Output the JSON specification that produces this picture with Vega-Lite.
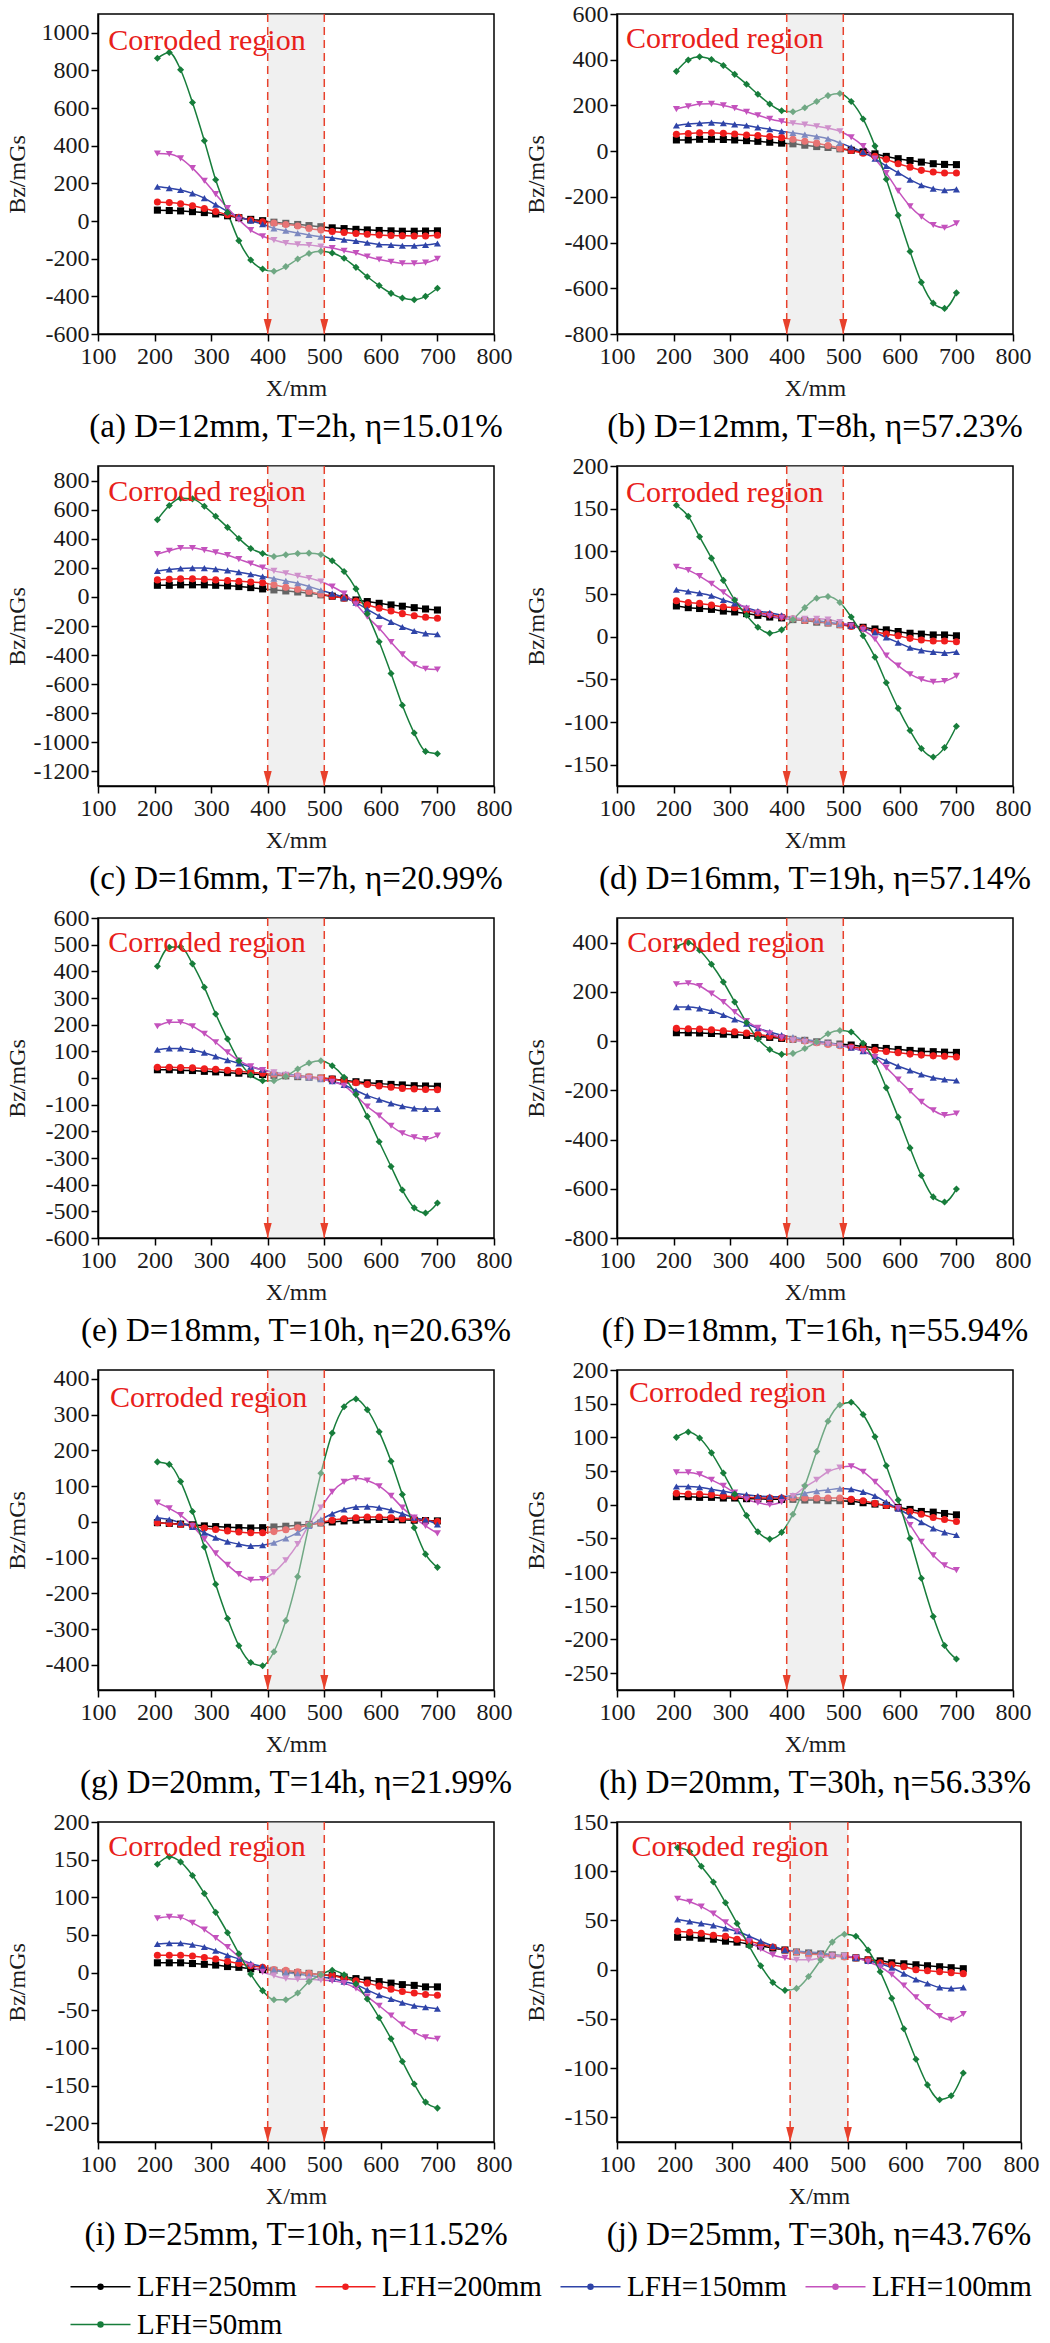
{
"$schema":"https://vega.github.io/schema/vega-lite/v6.json",
"padding":{"left":4,"top":1,"right":0,"bottom":0},
"bounds":"flush",
"columns":2,
"spacing":{"row":132,"column":123},
"config":{
"font":"Liberation Serif, serif",
"view":{"stroke":"#000","strokeWidth":1.5},
"range":{"category":["#000000","#f01e1e","#2f44a8","#c452bd","#177d3b"],"symbol":["square","circle","triangle-up","triangle-down","diamond"]},
"axis":{"grid":false,"labelFont":"Liberation Serif, serif","labelFontSize":24,"labelColor":"#1a1a1a","titleFont":"Liberation Serif, serif","titleFontSize":24,"titleFontWeight":"normal","titleColor":"#1a1a1a","domainColor":"#000","domainWidth":1.5,"tickColor":"#000","tickWidth":1.5,"tickSize":7,"tickCount":20},
"axisX":{"labelPadding":3,"titlePadding":8,"labelFlush":false,"labelOverlap":false},
"axisY":{"labelPadding":2,"titlePadding":2,"minExtent":67,"maxExtent":67,"labelOverlap":false},
"title":{"font":"Liberation Serif, serif","fontSize":33,"fontWeight":"normal","color":"#000","orient":"bottom","anchor":"middle","offset":11,"frame":"group"}
},
"datasets":{
"a":[
{"s":250,"x":205,"y":58},{"s":250,"x":226,"y":56},{"s":250,"x":246,"y":54},{"s":250,"x":267,"y":50},{"s":250,"x":288,"y":45},{"s":250,"x":308,"y":38},{"s":250,"x":329,"y":28},{"s":250,"x":349,"y":18},{"s":250,"x":370,"y":9},{"s":250,"x":391,"y":2},{"s":250,"x":411,"y":-6},{"s":250,"x":432,"y":-12},{"s":250,"x":453,"y":-18},{"s":250,"x":473,"y":-24},{"s":250,"x":494,"y":-30},{"s":250,"x":514,"y":-36},{"s":250,"x":535,"y":-40},{"s":250,"x":556,"y":-44},{"s":250,"x":576,"y":-47},{"s":250,"x":597,"y":-50},{"s":250,"x":618,"y":-52},{"s":250,"x":638,"y":-54},{"s":250,"x":659,"y":-54},{"s":250,"x":679,"y":-53},{"s":250,"x":700,"y":-52},
{"s":200,"x":205,"y":101},{"s":200,"x":226,"y":98},{"s":200,"x":246,"y":92},{"s":200,"x":267,"y":81},{"s":200,"x":288,"y":67},{"s":200,"x":308,"y":51},{"s":200,"x":329,"y":34},{"s":200,"x":349,"y":20},{"s":200,"x":370,"y":5},{"s":200,"x":391,"y":-4},{"s":200,"x":411,"y":-11},{"s":200,"x":432,"y":-18},{"s":200,"x":453,"y":-26},{"s":200,"x":473,"y":-39},{"s":200,"x":494,"y":-48},{"s":200,"x":514,"y":-55},{"s":200,"x":535,"y":-61},{"s":200,"x":556,"y":-66},{"s":200,"x":576,"y":-70},{"s":200,"x":597,"y":-74},{"s":200,"x":618,"y":-77},{"s":200,"x":638,"y":-78},{"s":200,"x":659,"y":-79},{"s":200,"x":679,"y":-79},{"s":200,"x":700,"y":-75},
{"s":150,"x":205,"y":182},{"s":150,"x":226,"y":175},{"s":150,"x":246,"y":165},{"s":150,"x":267,"y":147},{"s":150,"x":288,"y":122},{"s":150,"x":308,"y":87},{"s":150,"x":329,"y":51},{"s":150,"x":349,"y":23},{"s":150,"x":370,"y":2},{"s":150,"x":391,"y":-16},{"s":150,"x":411,"y":-39},{"s":150,"x":432,"y":-51},{"s":150,"x":453,"y":-64},{"s":150,"x":473,"y":-74},{"s":150,"x":494,"y":-83},{"s":150,"x":514,"y":-90},{"s":150,"x":535,"y":-99},{"s":150,"x":556,"y":-106},{"s":150,"x":576,"y":-115},{"s":150,"x":597,"y":-124},{"s":150,"x":618,"y":-127},{"s":150,"x":638,"y":-131},{"s":150,"x":659,"y":-131},{"s":150,"x":679,"y":-127},{"s":150,"x":700,"y":-119},
{"s":100,"x":205,"y":359},{"s":100,"x":226,"y":356},{"s":100,"x":246,"y":333},{"s":100,"x":267,"y":281},{"s":100,"x":288,"y":214},{"s":100,"x":308,"y":143},{"s":100,"x":329,"y":69},{"s":100,"x":349,"y":7},{"s":100,"x":370,"y":-48},{"s":100,"x":391,"y":-81},{"s":100,"x":411,"y":-101},{"s":100,"x":432,"y":-117},{"s":100,"x":453,"y":-124},{"s":100,"x":473,"y":-127},{"s":100,"x":494,"y":-135},{"s":100,"x":514,"y":-143},{"s":100,"x":535,"y":-158},{"s":100,"x":556,"y":-170},{"s":100,"x":576,"y":-188},{"s":100,"x":597,"y":-204},{"s":100,"x":618,"y":-216},{"s":100,"x":638,"y":-225},{"s":100,"x":659,"y":-225},{"s":100,"x":679,"y":-221},{"s":100,"x":700,"y":-200},
{"s":50,"x":205,"y":865},{"s":50,"x":226,"y":896},{"s":50,"x":246,"y":804},{"s":50,"x":267,"y":630},{"s":50,"x":288,"y":427},{"s":50,"x":308,"y":219},{"s":50,"x":329,"y":46},{"s":50,"x":349,"y":-104},{"s":50,"x":370,"y":-207},{"s":50,"x":391,"y":-255},{"s":50,"x":411,"y":-267},{"s":50,"x":432,"y":-242},{"s":50,"x":453,"y":-202},{"s":50,"x":473,"y":-172},{"s":50,"x":494,"y":-161},{"s":50,"x":514,"y":-170},{"s":50,"x":535,"y":-198},{"s":50,"x":556,"y":-246},{"s":50,"x":576,"y":-296},{"s":50,"x":597,"y":-343},{"s":50,"x":618,"y":-384},{"s":50,"x":638,"y":-409},{"s":50,"x":659,"y":-418},{"s":50,"x":679,"y":-400},{"s":50,"x":700,"y":-357}
],
"b":[
{"s":250,"x":205,"y":49},{"s":250,"x":226,"y":49},{"s":250,"x":246,"y":52},{"s":250,"x":267,"y":52},{"s":250,"x":288,"y":51},{"s":250,"x":308,"y":49},{"s":250,"x":329,"y":46},{"s":250,"x":349,"y":43},{"s":250,"x":370,"y":39},{"s":250,"x":391,"y":35},{"s":250,"x":411,"y":32},{"s":250,"x":432,"y":26},{"s":250,"x":453,"y":20},{"s":250,"x":473,"y":16},{"s":250,"x":494,"y":10},{"s":250,"x":514,"y":4},{"s":250,"x":535,"y":-3},{"s":250,"x":556,"y":-12},{"s":250,"x":576,"y":-23},{"s":250,"x":597,"y":-33},{"s":250,"x":618,"y":-41},{"s":250,"x":638,"y":-48},{"s":250,"x":659,"y":-55},{"s":250,"x":679,"y":-58},{"s":250,"x":700,"y":-59},
{"s":200,"x":205,"y":74},{"s":200,"x":226,"y":77},{"s":200,"x":246,"y":80},{"s":200,"x":267,"y":80},{"s":200,"x":288,"y":78},{"s":200,"x":308,"y":75},{"s":200,"x":329,"y":71},{"s":200,"x":349,"y":68},{"s":200,"x":370,"y":64},{"s":200,"x":391,"y":59},{"s":200,"x":411,"y":52},{"s":200,"x":432,"y":43},{"s":200,"x":453,"y":35},{"s":200,"x":473,"y":25},{"s":200,"x":494,"y":13},{"s":200,"x":514,"y":3},{"s":200,"x":535,"y":-9},{"s":200,"x":556,"y":-22},{"s":200,"x":576,"y":-36},{"s":200,"x":597,"y":-55},{"s":200,"x":618,"y":-70},{"s":200,"x":638,"y":-84},{"s":200,"x":659,"y":-91},{"s":200,"x":679,"y":-96},{"s":200,"x":700,"y":-96},
{"s":150,"x":205,"y":112},{"s":150,"x":226,"y":119},{"s":150,"x":246,"y":122},{"s":150,"x":267,"y":125},{"s":150,"x":288,"y":122},{"s":150,"x":308,"y":117},{"s":150,"x":329,"y":112},{"s":150,"x":349,"y":104},{"s":150,"x":370,"y":96},{"s":150,"x":391,"y":87},{"s":150,"x":411,"y":80},{"s":150,"x":432,"y":72},{"s":150,"x":453,"y":64},{"s":150,"x":473,"y":54},{"s":150,"x":494,"y":36},{"s":150,"x":514,"y":17},{"s":150,"x":535,"y":-4},{"s":150,"x":556,"y":-33},{"s":150,"x":576,"y":-65},{"s":150,"x":597,"y":-94},{"s":150,"x":618,"y":-125},{"s":150,"x":638,"y":-149},{"s":150,"x":659,"y":-164},{"s":150,"x":679,"y":-171},{"s":150,"x":700,"y":-167},
{"s":100,"x":205,"y":184},{"s":100,"x":226,"y":196},{"s":100,"x":246,"y":206},{"s":100,"x":267,"y":207},{"s":100,"x":288,"y":200},{"s":100,"x":308,"y":188},{"s":100,"x":329,"y":172},{"s":100,"x":349,"y":157},{"s":100,"x":370,"y":141},{"s":100,"x":391,"y":130},{"s":100,"x":411,"y":122},{"s":100,"x":432,"y":116},{"s":100,"x":453,"y":109},{"s":100,"x":473,"y":100},{"s":100,"x":494,"y":87},{"s":100,"x":514,"y":61},{"s":100,"x":535,"y":22},{"s":100,"x":556,"y":-33},{"s":100,"x":576,"y":-96},{"s":100,"x":597,"y":-174},{"s":100,"x":618,"y":-241},{"s":100,"x":638,"y":-287},{"s":100,"x":659,"y":-323},{"s":100,"x":679,"y":-335},{"s":100,"x":700,"y":-316},
{"s":50,"x":205,"y":349},{"s":50,"x":226,"y":399},{"s":50,"x":246,"y":413},{"s":50,"x":267,"y":401},{"s":50,"x":288,"y":375},{"s":50,"x":308,"y":336},{"s":50,"x":329,"y":293},{"s":50,"x":349,"y":249},{"s":50,"x":370,"y":206},{"s":50,"x":391,"y":177},{"s":50,"x":411,"y":172},{"s":50,"x":432,"y":190},{"s":50,"x":453,"y":217},{"s":50,"x":473,"y":243},{"s":50,"x":494,"y":252},{"s":50,"x":514,"y":217},{"s":50,"x":535,"y":141},{"s":50,"x":556,"y":22},{"s":50,"x":576,"y":-123},{"s":50,"x":597,"y":-281},{"s":50,"x":618,"y":-439},{"s":50,"x":638,"y":-574},{"s":50,"x":659,"y":-665},{"s":50,"x":679,"y":-688},{"s":50,"x":700,"y":-620}
],
"c":[
{"s":250,"x":205,"y":80},{"s":250,"x":226,"y":80},{"s":250,"x":246,"y":83},{"s":250,"x":267,"y":83},{"s":250,"x":288,"y":83},{"s":250,"x":308,"y":80},{"s":250,"x":329,"y":76},{"s":250,"x":349,"y":71},{"s":250,"x":370,"y":64},{"s":250,"x":391,"y":55},{"s":250,"x":411,"y":48},{"s":250,"x":432,"y":41},{"s":250,"x":453,"y":34},{"s":250,"x":473,"y":25},{"s":250,"x":494,"y":14},{"s":250,"x":514,"y":5},{"s":250,"x":535,"y":-7},{"s":250,"x":556,"y":-21},{"s":250,"x":576,"y":-32},{"s":250,"x":597,"y":-44},{"s":250,"x":618,"y":-55},{"s":250,"x":638,"y":-64},{"s":250,"x":659,"y":-74},{"s":250,"x":679,"y":-83},{"s":250,"x":700,"y":-90},
{"s":200,"x":205,"y":117},{"s":200,"x":226,"y":122},{"s":200,"x":246,"y":124},{"s":200,"x":267,"y":124},{"s":200,"x":288,"y":122},{"s":200,"x":308,"y":117},{"s":200,"x":329,"y":113},{"s":200,"x":349,"y":108},{"s":200,"x":370,"y":103},{"s":200,"x":391,"y":97},{"s":200,"x":411,"y":83},{"s":200,"x":432,"y":67},{"s":200,"x":453,"y":53},{"s":200,"x":473,"y":37},{"s":200,"x":494,"y":18},{"s":200,"x":514,"y":5},{"s":200,"x":535,"y":-9},{"s":200,"x":556,"y":-28},{"s":200,"x":576,"y":-55},{"s":200,"x":597,"y":-78},{"s":200,"x":618,"y":-97},{"s":200,"x":638,"y":-115},{"s":200,"x":659,"y":-129},{"s":200,"x":679,"y":-140},{"s":200,"x":700,"y":-147},
{"s":150,"x":205,"y":179},{"s":150,"x":226,"y":189},{"s":150,"x":246,"y":195},{"s":150,"x":267,"y":198},{"s":150,"x":288,"y":198},{"s":150,"x":308,"y":191},{"s":150,"x":329,"y":182},{"s":150,"x":349,"y":170},{"s":150,"x":370,"y":156},{"s":150,"x":391,"y":140},{"s":150,"x":411,"y":126},{"s":150,"x":432,"y":110},{"s":150,"x":453,"y":94},{"s":150,"x":473,"y":71},{"s":150,"x":494,"y":46},{"s":150,"x":514,"y":23},{"s":150,"x":535,"y":-5},{"s":150,"x":556,"y":-39},{"s":150,"x":576,"y":-85},{"s":150,"x":597,"y":-131},{"s":150,"x":618,"y":-172},{"s":150,"x":638,"y":-207},{"s":150,"x":659,"y":-234},{"s":150,"x":679,"y":-251},{"s":150,"x":700,"y":-257},
{"s":100,"x":205,"y":294},{"s":100,"x":226,"y":317},{"s":100,"x":246,"y":336},{"s":100,"x":267,"y":336},{"s":100,"x":288,"y":322},{"s":100,"x":308,"y":306},{"s":100,"x":329,"y":287},{"s":100,"x":349,"y":260},{"s":100,"x":370,"y":230},{"s":100,"x":391,"y":202},{"s":100,"x":411,"y":179},{"s":100,"x":432,"y":163},{"s":100,"x":453,"y":145},{"s":100,"x":473,"y":129},{"s":100,"x":494,"y":106},{"s":100,"x":514,"y":71},{"s":100,"x":535,"y":23},{"s":100,"x":556,"y":-51},{"s":100,"x":576,"y":-136},{"s":100,"x":597,"y":-216},{"s":100,"x":618,"y":-310},{"s":100,"x":638,"y":-395},{"s":100,"x":659,"y":-464},{"s":100,"x":679,"y":-494},{"s":100,"x":700,"y":-499},
{"s":50,"x":205,"y":531},{"s":50,"x":226,"y":628},{"s":50,"x":246,"y":678},{"s":50,"x":267,"y":674},{"s":50,"x":288,"y":623},{"s":50,"x":308,"y":554},{"s":50,"x":329,"y":478},{"s":50,"x":349,"y":402},{"s":50,"x":370,"y":333},{"s":50,"x":391,"y":299},{"s":50,"x":411,"y":278},{"s":50,"x":432,"y":290},{"s":50,"x":453,"y":299},{"s":50,"x":473,"y":301},{"s":50,"x":494,"y":292},{"s":50,"x":514,"y":248},{"s":50,"x":535,"y":175},{"s":50,"x":556,"y":55},{"s":50,"x":576,"y":-115},{"s":50,"x":597,"y":-308},{"s":50,"x":618,"y":-526},{"s":50,"x":638,"y":-745},{"s":50,"x":659,"y":-936},{"s":50,"x":679,"y":-1062},{"s":50,"x":700,"y":-1078}
],
"d":[
{"s":250,"x":205,"y":36},{"s":250,"x":226,"y":34},{"s":250,"x":246,"y":33},{"s":250,"x":267,"y":32},{"s":250,"x":288,"y":30},{"s":250,"x":308,"y":29},{"s":250,"x":329,"y":27},{"s":250,"x":349,"y":25},{"s":250,"x":370,"y":23},{"s":250,"x":391,"y":22},{"s":250,"x":411,"y":20},{"s":250,"x":432,"y":19},{"s":250,"x":453,"y":17},{"s":250,"x":473,"y":16},{"s":250,"x":494,"y":14},{"s":250,"x":514,"y":13},{"s":250,"x":535,"y":11},{"s":250,"x":556,"y":9},{"s":250,"x":576,"y":8},{"s":250,"x":597,"y":6},{"s":250,"x":618,"y":4},{"s":250,"x":638,"y":3},{"s":250,"x":659,"y":2},{"s":250,"x":679,"y":2},{"s":250,"x":700,"y":1},
{"s":200,"x":205,"y":42},{"s":200,"x":226,"y":40},{"s":200,"x":246,"y":39},{"s":200,"x":267,"y":37},{"s":200,"x":288,"y":35},{"s":200,"x":308,"y":34},{"s":200,"x":329,"y":31},{"s":200,"x":349,"y":28},{"s":200,"x":370,"y":26},{"s":200,"x":391,"y":23},{"s":200,"x":411,"y":21},{"s":200,"x":432,"y":19},{"s":200,"x":453,"y":18},{"s":200,"x":473,"y":16},{"s":200,"x":494,"y":14},{"s":200,"x":514,"y":12},{"s":200,"x":535,"y":10},{"s":200,"x":556,"y":6},{"s":200,"x":576,"y":3},{"s":200,"x":597,"y":1},{"s":200,"x":618,"y":-2},{"s":200,"x":638,"y":-4},{"s":200,"x":659,"y":-5},{"s":200,"x":679,"y":-5},{"s":200,"x":700,"y":-6},
{"s":150,"x":205,"y":55},{"s":150,"x":226,"y":53},{"s":150,"x":246,"y":51},{"s":150,"x":267,"y":48},{"s":150,"x":288,"y":43},{"s":150,"x":308,"y":39},{"s":150,"x":329,"y":34},{"s":150,"x":349,"y":30},{"s":150,"x":370,"y":28},{"s":150,"x":391,"y":25},{"s":150,"x":411,"y":22},{"s":150,"x":432,"y":21},{"s":150,"x":453,"y":19},{"s":150,"x":473,"y":17},{"s":150,"x":494,"y":15},{"s":150,"x":514,"y":13},{"s":150,"x":535,"y":10},{"s":150,"x":556,"y":5},{"s":150,"x":576,"y":-1},{"s":150,"x":597,"y":-7},{"s":150,"x":618,"y":-13},{"s":150,"x":638,"y":-16},{"s":150,"x":659,"y":-18},{"s":150,"x":679,"y":-19},{"s":150,"x":700,"y":-18},
{"s":100,"x":205,"y":82},{"s":100,"x":226,"y":78},{"s":100,"x":246,"y":71},{"s":100,"x":267,"y":62},{"s":100,"x":288,"y":52},{"s":100,"x":308,"y":42},{"s":100,"x":329,"y":33},{"s":100,"x":349,"y":28},{"s":100,"x":370,"y":24},{"s":100,"x":391,"y":22},{"s":100,"x":411,"y":21},{"s":100,"x":432,"y":21},{"s":100,"x":453,"y":21},{"s":100,"x":473,"y":20},{"s":100,"x":494,"y":17},{"s":100,"x":514,"y":13},{"s":100,"x":535,"y":8},{"s":100,"x":556,"y":-3},{"s":100,"x":576,"y":-22},{"s":100,"x":597,"y":-34},{"s":100,"x":618,"y":-44},{"s":100,"x":638,"y":-50},{"s":100,"x":659,"y":-53},{"s":100,"x":679,"y":-52},{"s":100,"x":700,"y":-46},
{"s":50,"x":205,"y":154},{"s":50,"x":226,"y":141},{"s":50,"x":246,"y":117},{"s":50,"x":267,"y":92},{"s":50,"x":288,"y":66},{"s":50,"x":308,"y":43},{"s":50,"x":329,"y":25},{"s":50,"x":349,"y":11},{"s":50,"x":370,"y":4},{"s":50,"x":391,"y":8},{"s":50,"x":411,"y":20},{"s":50,"x":432,"y":34},{"s":50,"x":453,"y":45},{"s":50,"x":473,"y":47},{"s":50,"x":494,"y":40},{"s":50,"x":514,"y":23},{"s":50,"x":535,"y":1},{"s":50,"x":556,"y":-24},{"s":50,"x":576,"y":-54},{"s":50,"x":597,"y":-84},{"s":50,"x":618,"y":-110},{"s":50,"x":638,"y":-131},{"s":50,"x":659,"y":-141},{"s":50,"x":679,"y":-130},{"s":50,"x":700,"y":-105}
],
"e":[
{"s":250,"x":205,"y":31},{"s":250,"x":226,"y":31},{"s":250,"x":246,"y":29},{"s":250,"x":267,"y":28},{"s":250,"x":288,"y":25},{"s":250,"x":308,"y":23},{"s":250,"x":329,"y":20},{"s":250,"x":349,"y":18},{"s":250,"x":370,"y":15},{"s":250,"x":391,"y":13},{"s":250,"x":411,"y":10},{"s":250,"x":432,"y":8},{"s":250,"x":453,"y":5},{"s":250,"x":473,"y":3},{"s":250,"x":494,"y":0},{"s":250,"x":514,"y":-4},{"s":250,"x":535,"y":-9},{"s":250,"x":556,"y":-14},{"s":250,"x":576,"y":-18},{"s":250,"x":597,"y":-21},{"s":250,"x":618,"y":-24},{"s":250,"x":638,"y":-26},{"s":250,"x":659,"y":-29},{"s":250,"x":679,"y":-30},{"s":250,"x":700,"y":-31},
{"s":200,"x":205,"y":40},{"s":200,"x":226,"y":40},{"s":200,"x":246,"y":39},{"s":200,"x":267,"y":38},{"s":200,"x":288,"y":35},{"s":200,"x":308,"y":33},{"s":200,"x":329,"y":29},{"s":200,"x":349,"y":25},{"s":200,"x":370,"y":21},{"s":200,"x":391,"y":18},{"s":200,"x":411,"y":14},{"s":200,"x":432,"y":10},{"s":200,"x":453,"y":8},{"s":200,"x":473,"y":5},{"s":200,"x":494,"y":1},{"s":200,"x":514,"y":-4},{"s":200,"x":535,"y":-11},{"s":200,"x":556,"y":-18},{"s":200,"x":576,"y":-24},{"s":200,"x":597,"y":-30},{"s":200,"x":618,"y":-35},{"s":200,"x":638,"y":-39},{"s":200,"x":659,"y":-41},{"s":200,"x":679,"y":-43},{"s":200,"x":700,"y":-44},
{"s":150,"x":205,"y":106},{"s":150,"x":226,"y":111},{"s":150,"x":246,"y":111},{"s":150,"x":267,"y":105},{"s":150,"x":288,"y":95},{"s":150,"x":308,"y":81},{"s":150,"x":329,"y":67},{"s":150,"x":349,"y":55},{"s":150,"x":370,"y":42},{"s":150,"x":391,"y":31},{"s":150,"x":411,"y":21},{"s":150,"x":432,"y":15},{"s":150,"x":453,"y":9},{"s":150,"x":473,"y":2},{"s":150,"x":494,"y":-4},{"s":150,"x":514,"y":-12},{"s":150,"x":535,"y":-26},{"s":150,"x":556,"y":-47},{"s":150,"x":576,"y":-66},{"s":150,"x":597,"y":-81},{"s":150,"x":618,"y":-95},{"s":150,"x":638,"y":-106},{"s":150,"x":659,"y":-114},{"s":150,"x":679,"y":-116},{"s":150,"x":700,"y":-116},
{"s":100,"x":205,"y":194},{"s":100,"x":226,"y":209},{"s":100,"x":246,"y":209},{"s":100,"x":267,"y":194},{"s":100,"x":288,"y":166},{"s":100,"x":308,"y":134},{"s":100,"x":329,"y":96},{"s":100,"x":349,"y":65},{"s":100,"x":370,"y":44},{"s":100,"x":391,"y":30},{"s":100,"x":411,"y":21},{"s":100,"x":432,"y":12},{"s":100,"x":453,"y":6},{"s":100,"x":473,"y":0},{"s":100,"x":494,"y":-4},{"s":100,"x":514,"y":-14},{"s":100,"x":535,"y":-29},{"s":100,"x":556,"y":-66},{"s":100,"x":576,"y":-107},{"s":100,"x":597,"y":-141},{"s":100,"x":618,"y":-179},{"s":100,"x":638,"y":-207},{"s":100,"x":659,"y":-222},{"s":100,"x":679,"y":-229},{"s":100,"x":700,"y":-216},
{"s":50,"x":205,"y":419},{"s":50,"x":226,"y":490},{"s":50,"x":246,"y":492},{"s":50,"x":267,"y":428},{"s":50,"x":288,"y":340},{"s":50,"x":308,"y":240},{"s":50,"x":329,"y":146},{"s":50,"x":349,"y":65},{"s":50,"x":370,"y":11},{"s":50,"x":391,"y":-10},{"s":50,"x":411,"y":-10},{"s":50,"x":432,"y":6},{"s":50,"x":453,"y":34},{"s":50,"x":473,"y":56},{"s":50,"x":494,"y":65},{"s":50,"x":514,"y":46},{"s":50,"x":535,"y":3},{"s":50,"x":556,"y":-62},{"s":50,"x":576,"y":-144},{"s":50,"x":597,"y":-239},{"s":50,"x":618,"y":-332},{"s":50,"x":638,"y":-420},{"s":50,"x":659,"y":-487},{"s":50,"x":679,"y":-506},{"s":50,"x":700,"y":-469}
],
"f":[
{"s":250,"x":205,"y":34},{"s":250,"x":226,"y":34},{"s":250,"x":246,"y":33},{"s":250,"x":267,"y":31},{"s":250,"x":288,"y":28},{"s":250,"x":308,"y":26},{"s":250,"x":329,"y":23},{"s":250,"x":349,"y":19},{"s":250,"x":370,"y":15},{"s":250,"x":391,"y":11},{"s":250,"x":411,"y":7},{"s":250,"x":432,"y":3},{"s":250,"x":453,"y":-3},{"s":250,"x":473,"y":-8},{"s":250,"x":494,"y":-12},{"s":250,"x":514,"y":-16},{"s":250,"x":535,"y":-22},{"s":250,"x":556,"y":-26},{"s":250,"x":576,"y":-30},{"s":250,"x":597,"y":-34},{"s":250,"x":618,"y":-38},{"s":250,"x":638,"y":-41},{"s":250,"x":659,"y":-43},{"s":250,"x":679,"y":-45},{"s":250,"x":700,"y":-46},
{"s":200,"x":205,"y":52},{"s":200,"x":226,"y":50},{"s":200,"x":246,"y":49},{"s":200,"x":267,"y":46},{"s":200,"x":288,"y":42},{"s":200,"x":308,"y":38},{"s":200,"x":329,"y":33},{"s":200,"x":349,"y":27},{"s":200,"x":370,"y":20},{"s":200,"x":391,"y":14},{"s":200,"x":411,"y":7},{"s":200,"x":432,"y":0},{"s":200,"x":453,"y":-7},{"s":200,"x":473,"y":-14},{"s":200,"x":494,"y":-19},{"s":200,"x":514,"y":-24},{"s":200,"x":535,"y":-30},{"s":200,"x":556,"y":-37},{"s":200,"x":576,"y":-42},{"s":200,"x":597,"y":-47},{"s":200,"x":618,"y":-53},{"s":200,"x":638,"y":-57},{"s":200,"x":659,"y":-60},{"s":200,"x":679,"y":-62},{"s":200,"x":700,"y":-65},
{"s":150,"x":205,"y":138},{"s":150,"x":226,"y":138},{"s":150,"x":246,"y":133},{"s":150,"x":267,"y":122},{"s":150,"x":288,"y":106},{"s":150,"x":308,"y":88},{"s":150,"x":329,"y":71},{"s":150,"x":349,"y":52},{"s":150,"x":370,"y":37},{"s":150,"x":391,"y":24},{"s":150,"x":411,"y":16},{"s":150,"x":432,"y":7},{"s":150,"x":453,"y":0},{"s":150,"x":473,"y":-7},{"s":150,"x":494,"y":-16},{"s":150,"x":514,"y":-27},{"s":150,"x":535,"y":-41},{"s":150,"x":556,"y":-61},{"s":150,"x":576,"y":-81},{"s":150,"x":597,"y":-102},{"s":150,"x":618,"y":-119},{"s":150,"x":638,"y":-136},{"s":150,"x":659,"y":-149},{"s":150,"x":679,"y":-156},{"s":150,"x":700,"y":-160},
{"s":100,"x":205,"y":231},{"s":100,"x":226,"y":235},{"s":100,"x":246,"y":224},{"s":100,"x":267,"y":193},{"s":100,"x":288,"y":159},{"s":100,"x":308,"y":118},{"s":100,"x":329,"y":81},{"s":100,"x":349,"y":54},{"s":100,"x":370,"y":31},{"s":100,"x":391,"y":14},{"s":100,"x":411,"y":3},{"s":100,"x":432,"y":-4},{"s":100,"x":453,"y":-9},{"s":100,"x":473,"y":-11},{"s":100,"x":494,"y":-18},{"s":100,"x":514,"y":-27},{"s":100,"x":535,"y":-41},{"s":100,"x":556,"y":-65},{"s":100,"x":576,"y":-108},{"s":100,"x":597,"y":-156},{"s":100,"x":618,"y":-203},{"s":100,"x":638,"y":-247},{"s":100,"x":659,"y":-281},{"s":100,"x":679,"y":-301},{"s":100,"x":700,"y":-294},
{"s":50,"x":205,"y":382},{"s":50,"x":226,"y":400},{"s":50,"x":246,"y":369},{"s":50,"x":267,"y":312},{"s":50,"x":288,"y":240},{"s":50,"x":308,"y":159},{"s":50,"x":329,"y":75},{"s":50,"x":349,"y":9},{"s":50,"x":370,"y":-34},{"s":50,"x":391,"y":-54},{"s":50,"x":411,"y":-50},{"s":50,"x":432,"y":-30},{"s":50,"x":453,"y":-3},{"s":50,"x":473,"y":30},{"s":50,"x":494,"y":43},{"s":50,"x":514,"y":37},{"s":50,"x":535,"y":-9},{"s":50,"x":556,"y":-84},{"s":50,"x":576,"y":-190},{"s":50,"x":597,"y":-309},{"s":50,"x":618,"y":-434},{"s":50,"x":638,"y":-546},{"s":50,"x":659,"y":-633},{"s":50,"x":679,"y":-654},{"s":50,"x":700,"y":-601}
],
"g":[
{"s":250,"x":205,"y":-2},{"s":250,"x":226,"y":-4},{"s":250,"x":246,"y":-6},{"s":250,"x":267,"y":-8},{"s":250,"x":288,"y":-11},{"s":250,"x":308,"y":-13},{"s":250,"x":329,"y":-15},{"s":250,"x":349,"y":-16},{"s":250,"x":370,"y":-17},{"s":250,"x":391,"y":-16},{"s":250,"x":411,"y":-14},{"s":250,"x":432,"y":-12},{"s":250,"x":453,"y":-9},{"s":250,"x":473,"y":-7},{"s":250,"x":494,"y":-3},{"s":250,"x":514,"y":0},{"s":250,"x":535,"y":3},{"s":250,"x":556,"y":5},{"s":250,"x":576,"y":6},{"s":250,"x":597,"y":7},{"s":250,"x":618,"y":7},{"s":250,"x":638,"y":6},{"s":250,"x":659,"y":5},{"s":250,"x":679,"y":4},{"s":250,"x":700,"y":3},
{"s":200,"x":205,"y":-2},{"s":200,"x":226,"y":-4},{"s":200,"x":246,"y":-7},{"s":200,"x":267,"y":-11},{"s":200,"x":288,"y":-17},{"s":200,"x":308,"y":-21},{"s":200,"x":329,"y":-25},{"s":200,"x":349,"y":-28},{"s":200,"x":370,"y":-30},{"s":200,"x":391,"y":-30},{"s":200,"x":411,"y":-27},{"s":200,"x":432,"y":-22},{"s":200,"x":453,"y":-16},{"s":200,"x":473,"y":-8},{"s":200,"x":494,"y":-2},{"s":200,"x":514,"y":5},{"s":200,"x":535,"y":9},{"s":200,"x":556,"y":12},{"s":200,"x":576,"y":14},{"s":200,"x":597,"y":14},{"s":200,"x":618,"y":12},{"s":200,"x":638,"y":9},{"s":200,"x":659,"y":7},{"s":200,"x":679,"y":4},{"s":200,"x":700,"y":1},
{"s":150,"x":205,"y":12},{"s":150,"x":226,"y":7},{"s":150,"x":246,"y":-2},{"s":150,"x":267,"y":-14},{"s":150,"x":288,"y":-30},{"s":150,"x":308,"y":-44},{"s":150,"x":329,"y":-55},{"s":150,"x":349,"y":-62},{"s":150,"x":370,"y":-67},{"s":150,"x":391,"y":-65},{"s":150,"x":411,"y":-58},{"s":150,"x":432,"y":-46},{"s":150,"x":453,"y":-30},{"s":150,"x":473,"y":-11},{"s":150,"x":494,"y":7},{"s":150,"x":514,"y":23},{"s":150,"x":535,"y":35},{"s":150,"x":556,"y":42},{"s":150,"x":576,"y":43},{"s":150,"x":597,"y":40},{"s":150,"x":618,"y":33},{"s":150,"x":638,"y":23},{"s":150,"x":659,"y":12},{"s":150,"x":679,"y":6},{"s":150,"x":700,"y":-7},
{"s":100,"x":205,"y":54},{"s":100,"x":226,"y":38},{"s":100,"x":246,"y":19},{"s":100,"x":267,"y":-11},{"s":100,"x":288,"y":-48},{"s":100,"x":308,"y":-88},{"s":100,"x":329,"y":-120},{"s":100,"x":349,"y":-146},{"s":100,"x":370,"y":-162},{"s":100,"x":391,"y":-160},{"s":100,"x":411,"y":-141},{"s":100,"x":432,"y":-107},{"s":100,"x":453,"y":-62},{"s":100,"x":473,"y":-8},{"s":100,"x":494,"y":40},{"s":100,"x":514,"y":84},{"s":100,"x":535,"y":112},{"s":100,"x":556,"y":122},{"s":100,"x":576,"y":116},{"s":100,"x":597,"y":100},{"s":100,"x":618,"y":73},{"s":100,"x":638,"y":40},{"s":100,"x":659,"y":12},{"s":100,"x":679,"y":-11},{"s":100,"x":700,"y":-32},
{"s":50,"x":205,"y":168},{"s":50,"x":226,"y":161},{"s":50,"x":246,"y":113},{"s":50,"x":267,"y":29},{"s":50,"x":288,"y":-70},{"s":50,"x":308,"y":-174},{"s":50,"x":329,"y":-270},{"s":50,"x":349,"y":-346},{"s":50,"x":370,"y":-393},{"s":50,"x":391,"y":-402},{"s":50,"x":411,"y":-363},{"s":50,"x":432,"y":-276},{"s":50,"x":453,"y":-153},{"s":50,"x":473,"y":-8},{"s":50,"x":494,"y":136},{"s":50,"x":514,"y":249},{"s":50,"x":535,"y":322},{"s":50,"x":556,"y":344},{"s":50,"x":576,"y":314},{"s":50,"x":597,"y":252},{"s":50,"x":618,"y":170},{"s":50,"x":638,"y":77},{"s":50,"x":659,"y":-16},{"s":50,"x":679,"y":-90},{"s":50,"x":700,"y":-127}
],
"h":[
{"s":250,"x":205,"y":12},{"s":250,"x":226,"y":12},{"s":250,"x":246,"y":11},{"s":250,"x":267,"y":11},{"s":250,"x":288,"y":10},{"s":250,"x":308,"y":10},{"s":250,"x":329,"y":9},{"s":250,"x":349,"y":9},{"s":250,"x":370,"y":8},{"s":250,"x":391,"y":8},{"s":250,"x":411,"y":8},{"s":250,"x":432,"y":7},{"s":250,"x":453,"y":7},{"s":250,"x":473,"y":6},{"s":250,"x":494,"y":6},{"s":250,"x":514,"y":5},{"s":250,"x":535,"y":3},{"s":250,"x":556,"y":1},{"s":250,"x":576,"y":-1},{"s":250,"x":597,"y":-4},{"s":250,"x":618,"y":-7},{"s":250,"x":638,"y":-10},{"s":250,"x":659,"y":-11},{"s":250,"x":679,"y":-13},{"s":250,"x":700,"y":-15},
{"s":200,"x":205,"y":17},{"s":200,"x":226,"y":16},{"s":200,"x":246,"y":16},{"s":200,"x":267,"y":15},{"s":200,"x":288,"y":13},{"s":200,"x":308,"y":12},{"s":200,"x":329,"y":11},{"s":200,"x":349,"y":10},{"s":200,"x":370,"y":10},{"s":200,"x":391,"y":10},{"s":200,"x":411,"y":10},{"s":200,"x":432,"y":10},{"s":200,"x":453,"y":10},{"s":200,"x":473,"y":10},{"s":200,"x":494,"y":10},{"s":200,"x":514,"y":8},{"s":200,"x":535,"y":6},{"s":200,"x":556,"y":2},{"s":200,"x":576,"y":-1},{"s":200,"x":597,"y":-5},{"s":200,"x":618,"y":-10},{"s":200,"x":638,"y":-14},{"s":200,"x":659,"y":-19},{"s":200,"x":679,"y":-22},{"s":200,"x":700,"y":-25},
{"s":150,"x":205,"y":27},{"s":150,"x":226,"y":27},{"s":150,"x":246,"y":26},{"s":150,"x":267,"y":23},{"s":150,"x":288,"y":20},{"s":150,"x":308,"y":17},{"s":150,"x":329,"y":15},{"s":150,"x":349,"y":13},{"s":150,"x":370,"y":12},{"s":150,"x":391,"y":12},{"s":150,"x":411,"y":14},{"s":150,"x":432,"y":17},{"s":150,"x":453,"y":20},{"s":150,"x":473,"y":22},{"s":150,"x":494,"y":24},{"s":150,"x":514,"y":23},{"s":150,"x":535,"y":19},{"s":150,"x":556,"y":13},{"s":150,"x":576,"y":4},{"s":150,"x":597,"y":-6},{"s":150,"x":618,"y":-16},{"s":150,"x":638,"y":-26},{"s":150,"x":659,"y":-35},{"s":150,"x":679,"y":-41},{"s":150,"x":700,"y":-45},
{"s":100,"x":205,"y":48},{"s":100,"x":226,"y":48},{"s":100,"x":246,"y":45},{"s":100,"x":267,"y":37},{"s":100,"x":288,"y":28},{"s":100,"x":308,"y":18},{"s":100,"x":329,"y":8},{"s":100,"x":349,"y":3},{"s":100,"x":370,"y":0},{"s":100,"x":391,"y":4},{"s":100,"x":411,"y":13},{"s":100,"x":432,"y":26},{"s":100,"x":453,"y":37},{"s":100,"x":473,"y":49},{"s":100,"x":494,"y":55},{"s":100,"x":514,"y":57},{"s":100,"x":535,"y":49},{"s":100,"x":556,"y":34},{"s":100,"x":576,"y":17},{"s":100,"x":597,"y":-5},{"s":100,"x":618,"y":-30},{"s":100,"x":638,"y":-55},{"s":100,"x":659,"y":-75},{"s":100,"x":679,"y":-90},{"s":100,"x":700,"y":-97},
{"s":50,"x":205,"y":100},{"s":50,"x":226,"y":108},{"s":50,"x":246,"y":99},{"s":50,"x":267,"y":77},{"s":50,"x":288,"y":47},{"s":50,"x":308,"y":16},{"s":50,"x":329,"y":-16},{"s":50,"x":349,"y":-40},{"s":50,"x":370,"y":-51},{"s":50,"x":391,"y":-41},{"s":50,"x":411,"y":-14},{"s":50,"x":432,"y":28},{"s":50,"x":453,"y":79},{"s":50,"x":473,"y":124},{"s":50,"x":494,"y":148},{"s":50,"x":514,"y":152},{"s":50,"x":535,"y":134},{"s":50,"x":556,"y":101},{"s":50,"x":576,"y":58},{"s":50,"x":597,"y":7},{"s":50,"x":618,"y":-50},{"s":50,"x":638,"y":-109},{"s":50,"x":659,"y":-166},{"s":50,"x":679,"y":-209},{"s":50,"x":700,"y":-229}
],
"i":[
{"s":250,"x":205,"y":13},{"s":250,"x":226,"y":13},{"s":250,"x":246,"y":13},{"s":250,"x":267,"y":12},{"s":250,"x":288,"y":11},{"s":250,"x":308,"y":10},{"s":250,"x":329,"y":8},{"s":250,"x":349,"y":7},{"s":250,"x":370,"y":5},{"s":250,"x":391,"y":4},{"s":250,"x":411,"y":3},{"s":250,"x":432,"y":1},{"s":250,"x":453,"y":0},{"s":250,"x":473,"y":-1},{"s":250,"x":494,"y":-3},{"s":250,"x":514,"y":-4},{"s":250,"x":535,"y":-6},{"s":250,"x":556,"y":-8},{"s":250,"x":576,"y":-10},{"s":250,"x":597,"y":-12},{"s":250,"x":618,"y":-14},{"s":250,"x":638,"y":-16},{"s":250,"x":659,"y":-17},{"s":250,"x":679,"y":-19},{"s":250,"x":700,"y":-19},
{"s":200,"x":205,"y":23},{"s":200,"x":226,"y":23},{"s":200,"x":246,"y":23},{"s":200,"x":267,"y":22},{"s":200,"x":288,"y":20},{"s":200,"x":308,"y":18},{"s":200,"x":329,"y":15},{"s":200,"x":349,"y":12},{"s":200,"x":370,"y":9},{"s":200,"x":391,"y":7},{"s":200,"x":411,"y":4},{"s":200,"x":432,"y":3},{"s":200,"x":453,"y":1},{"s":200,"x":473,"y":-1},{"s":200,"x":494,"y":-3},{"s":200,"x":514,"y":-4},{"s":200,"x":535,"y":-8},{"s":200,"x":556,"y":-11},{"s":200,"x":576,"y":-14},{"s":200,"x":597,"y":-18},{"s":200,"x":618,"y":-22},{"s":200,"x":638,"y":-25},{"s":200,"x":659,"y":-27},{"s":200,"x":679,"y":-29},{"s":200,"x":700,"y":-30},
{"s":150,"x":205,"y":38},{"s":150,"x":226,"y":39},{"s":150,"x":246,"y":39},{"s":150,"x":267,"y":37},{"s":150,"x":288,"y":34},{"s":150,"x":308,"y":29},{"s":150,"x":329,"y":23},{"s":150,"x":349,"y":18},{"s":150,"x":370,"y":12},{"s":150,"x":391,"y":8},{"s":150,"x":411,"y":4},{"s":150,"x":432,"y":0},{"s":150,"x":453,"y":-2},{"s":150,"x":473,"y":-4},{"s":150,"x":494,"y":-6},{"s":150,"x":514,"y":-8},{"s":150,"x":535,"y":-12},{"s":150,"x":556,"y":-16},{"s":150,"x":576,"y":-23},{"s":150,"x":597,"y":-30},{"s":150,"x":618,"y":-35},{"s":150,"x":638,"y":-40},{"s":150,"x":659,"y":-44},{"s":150,"x":679,"y":-46},{"s":150,"x":700,"y":-48},
{"s":100,"x":205,"y":72},{"s":100,"x":226,"y":74},{"s":100,"x":246,"y":73},{"s":100,"x":267,"y":66},{"s":100,"x":288,"y":57},{"s":100,"x":308,"y":46},{"s":100,"x":329,"y":34},{"s":100,"x":349,"y":21},{"s":100,"x":370,"y":9},{"s":100,"x":391,"y":1},{"s":100,"x":411,"y":-4},{"s":100,"x":432,"y":-8},{"s":100,"x":453,"y":-9},{"s":100,"x":473,"y":-9},{"s":100,"x":494,"y":-10},{"s":100,"x":514,"y":-11},{"s":100,"x":535,"y":-14},{"s":100,"x":556,"y":-21},{"s":100,"x":576,"y":-32},{"s":100,"x":597,"y":-44},{"s":100,"x":618,"y":-57},{"s":100,"x":638,"y":-69},{"s":100,"x":659,"y":-79},{"s":100,"x":679,"y":-86},{"s":100,"x":700,"y":-88},
{"s":50,"x":205,"y":144},{"s":50,"x":226,"y":154},{"s":50,"x":246,"y":147},{"s":50,"x":267,"y":129},{"s":50,"x":288,"y":105},{"s":50,"x":308,"y":80},{"s":50,"x":329,"y":53},{"s":50,"x":349,"y":25},{"s":50,"x":370,"y":-2},{"s":50,"x":391,"y":-24},{"s":50,"x":411,"y":-36},{"s":50,"x":432,"y":-36},{"s":50,"x":453,"y":-27},{"s":50,"x":473,"y":-12},{"s":50,"x":494,"y":-3},{"s":50,"x":514,"y":3},{"s":50,"x":535,"y":-3},{"s":50,"x":556,"y":-15},{"s":50,"x":576,"y":-35},{"s":50,"x":597,"y":-60},{"s":50,"x":618,"y":-88},{"s":50,"x":638,"y":-118},{"s":50,"x":659,"y":-148},{"s":50,"x":679,"y":-172},{"s":50,"x":700,"y":-180}
],
"j":[
{"s":250,"x":205,"y":33},{"s":250,"x":226,"y":33},{"s":250,"x":246,"y":32},{"s":250,"x":267,"y":31},{"s":250,"x":288,"y":29},{"s":250,"x":308,"y":28},{"s":250,"x":329,"y":26},{"s":250,"x":349,"y":24},{"s":250,"x":370,"y":22},{"s":250,"x":391,"y":20},{"s":250,"x":411,"y":18},{"s":250,"x":432,"y":17},{"s":250,"x":453,"y":16},{"s":250,"x":473,"y":15},{"s":250,"x":494,"y":14},{"s":250,"x":514,"y":12},{"s":250,"x":535,"y":10},{"s":250,"x":556,"y":9},{"s":250,"x":576,"y":7},{"s":250,"x":597,"y":6},{"s":250,"x":618,"y":5},{"s":250,"x":638,"y":4},{"s":250,"x":659,"y":3},{"s":250,"x":679,"y":2},{"s":250,"x":700,"y":1},
{"s":200,"x":205,"y":39},{"s":200,"x":226,"y":38},{"s":200,"x":246,"y":37},{"s":200,"x":267,"y":35},{"s":200,"x":288,"y":34},{"s":200,"x":308,"y":31},{"s":200,"x":329,"y":29},{"s":200,"x":349,"y":26},{"s":200,"x":370,"y":23},{"s":200,"x":391,"y":20},{"s":200,"x":411,"y":18},{"s":200,"x":432,"y":16},{"s":200,"x":453,"y":15},{"s":200,"x":473,"y":14},{"s":200,"x":494,"y":13},{"s":200,"x":514,"y":12},{"s":200,"x":535,"y":10},{"s":200,"x":556,"y":7},{"s":200,"x":576,"y":5},{"s":200,"x":597,"y":3},{"s":200,"x":618,"y":0},{"s":200,"x":638,"y":-1},{"s":200,"x":659,"y":-2},{"s":200,"x":679,"y":-3},{"s":200,"x":700,"y":-4},
{"s":150,"x":205,"y":51},{"s":150,"x":226,"y":49},{"s":150,"x":246,"y":47},{"s":150,"x":267,"y":45},{"s":150,"x":288,"y":42},{"s":150,"x":308,"y":39},{"s":150,"x":329,"y":34},{"s":150,"x":349,"y":29},{"s":150,"x":370,"y":24},{"s":150,"x":391,"y":20},{"s":150,"x":411,"y":19},{"s":150,"x":432,"y":18},{"s":150,"x":453,"y":17},{"s":150,"x":473,"y":15},{"s":150,"x":494,"y":14},{"s":150,"x":514,"y":12},{"s":150,"x":535,"y":9},{"s":150,"x":556,"y":6},{"s":150,"x":576,"y":2},{"s":150,"x":597,"y":-4},{"s":150,"x":618,"y":-10},{"s":150,"x":638,"y":-14},{"s":150,"x":659,"y":-18},{"s":150,"x":679,"y":-19},{"s":150,"x":700,"y":-18},
{"s":100,"x":205,"y":72},{"s":100,"x":226,"y":69},{"s":100,"x":246,"y":64},{"s":100,"x":267,"y":57},{"s":100,"x":288,"y":48},{"s":100,"x":308,"y":39},{"s":100,"x":329,"y":29},{"s":100,"x":349,"y":21},{"s":100,"x":370,"y":15},{"s":100,"x":391,"y":12},{"s":100,"x":411,"y":10},{"s":100,"x":432,"y":10},{"s":100,"x":453,"y":12},{"s":100,"x":473,"y":14},{"s":100,"x":494,"y":14},{"s":100,"x":514,"y":12},{"s":100,"x":535,"y":8},{"s":100,"x":556,"y":3},{"s":100,"x":576,"y":-5},{"s":100,"x":597,"y":-16},{"s":100,"x":618,"y":-28},{"s":100,"x":638,"y":-38},{"s":100,"x":659,"y":-47},{"s":100,"x":679,"y":-51},{"s":100,"x":700,"y":-45},
{"s":50,"x":205,"y":124},{"s":50,"x":226,"y":120},{"s":50,"x":246,"y":105},{"s":50,"x":267,"y":89},{"s":50,"x":288,"y":68},{"s":50,"x":308,"y":47},{"s":50,"x":329,"y":24},{"s":50,"x":349,"y":4},{"s":50,"x":370,"y":-13},{"s":50,"x":391,"y":-21},{"s":50,"x":411,"y":-19},{"s":50,"x":432,"y":-7},{"s":50,"x":453,"y":10},{"s":50,"x":473,"y":28},{"s":50,"x":494,"y":36},{"s":50,"x":514,"y":34},{"s":50,"x":535,"y":20},{"s":50,"x":556,"y":-2},{"s":50,"x":576,"y":-29},{"s":50,"x":597,"y":-60},{"s":50,"x":618,"y":-91},{"s":50,"x":638,"y":-117},{"s":50,"x":659,"y":-132},{"s":50,"x":679,"y":-128},{"s":50,"x":700,"y":-105}
]
},
"concat":[
{"width":396,"height":320,"title":{"text":"(a)  D=12mm, T=2h, η=15.01%"},"layer":[
{"data":{"name":"a"},"mark":{"type":"line","strokeWidth":1.5,"interpolate":"monotone"},"encoding":{"x":{"field":"x","type":"quantitative","scale":{"domain":[100,800],"nice":false},"axis":{"values":[100,200,300,400,500,600,700,800],"title":"X/mm","tickCount":20}},"y":{"field":"y","type":"quantitative","scale":{"domain":[-600,1100],"nice":false,"zero":false},"axis":{"values":[-600,-400,-200,0,200,400,600,800,1000],"title":"Bz/mGs","labelExpr":"'' + datum.value","tickCount":20}},"color":{"field":"s","type":"nominal","sort":"descending","legend":{"title":null,"orient":"none","legendX":-12,"legendY":2258,"direction":"horizontal","columns":4,"symbolType":"M-3,0H3M0.25,0A0.25,0.25,0,1,1,-0.25,0A0.25,0.25,0,1,1,0.25,0Z","symbolSize":400,"symbolStrokeWidth":1.5,"labelExpr":"'LFH=' + datum.label + 'mm'","labelFont":"Liberation Serif, serif","labelFontSize":29,"labelColor":"#000","labelOffset":22,"columnPadding":15,"rowPadding":8,"padding":0}}}},
{"data":{"name":"a"},"mark":{"type":"point","filled":true,"opacity":1,"size":50},"encoding":{"x":{"field":"x","type":"quantitative"},"y":{"field":"y","type":"quantitative"},"color":{"field":"s","type":"nominal","sort":"descending"},"shape":{"field":"s","type":"nominal","sort":"descending","legend":null}}},
{"data":{"values":[{"x":400,"x2":500}]},"mark":{"type":"rect","fill":"#dedede","opacity":0.45},"encoding":{"x":{"field":"x","type":"quantitative"},"x2":{"field":"x2"}}},
{"data":{"values":[{"x":400},{"x":500}]},"mark":{"type":"rule","color":"#e8412c","strokeDash":[8,5],"strokeWidth":1.5},"encoding":{"x":{"field":"x","type":"quantitative"}}},
{"data":{"values":[{"x":400},{"x":500}]},"mark":{"type":"point","shape":"M-1,-3.75L1,-3.75L0,0Z","filled":true,"color":"#e8412c","opacity":1,"size":64},"encoding":{"x":{"field":"x","type":"quantitative"},"y":{"datum":-600}}},
{"data":{"values":[{}]},"mark":{"type":"text","align":"left","baseline":"middle","font":"Liberation Serif, serif","fontSize":30,"color":"#e8201a"},"encoding":{"x":{"datum":118},"y":{"datum":957},"text":{"value":"Corroded region"}}}
]},
{"width":396,"height":320,"title":{"text":"(b) D=12mm, T=8h, η=57.23%"},"layer":[
{"data":{"name":"b"},"mark":{"type":"line","strokeWidth":1.5,"interpolate":"monotone"},"encoding":{"x":{"field":"x","type":"quantitative","scale":{"domain":[100,800],"nice":false},"axis":{"values":[100,200,300,400,500,600,700,800],"title":"X/mm","tickCount":20}},"y":{"field":"y","type":"quantitative","scale":{"domain":[-800,600],"nice":false,"zero":false},"axis":{"values":[-800,-600,-400,-200,0,200,400,600],"title":"Bz/mGs","labelExpr":"'' + datum.value","tickCount":20}},"color":{"field":"s","type":"nominal","sort":"descending"}}},
{"data":{"name":"b"},"mark":{"type":"point","filled":true,"opacity":1,"size":50},"encoding":{"x":{"field":"x","type":"quantitative"},"y":{"field":"y","type":"quantitative"},"color":{"field":"s","type":"nominal","sort":"descending"},"shape":{"field":"s","type":"nominal","sort":"descending","legend":null}}},
{"data":{"values":[{"x":400,"x2":500}]},"mark":{"type":"rect","fill":"#dedede","opacity":0.45},"encoding":{"x":{"field":"x","type":"quantitative"},"x2":{"field":"x2"}}},
{"data":{"values":[{"x":400},{"x":500}]},"mark":{"type":"rule","color":"#e8412c","strokeDash":[8,5],"strokeWidth":1.5},"encoding":{"x":{"field":"x","type":"quantitative"}}},
{"data":{"values":[{"x":400},{"x":500}]},"mark":{"type":"point","shape":"M-1,-3.75L1,-3.75L0,0Z","filled":true,"color":"#e8412c","opacity":1,"size":64},"encoding":{"x":{"field":"x","type":"quantitative"},"y":{"datum":-800}}},
{"data":{"values":[{}]},"mark":{"type":"text","align":"left","baseline":"middle","font":"Liberation Serif, serif","fontSize":30,"color":"#e8201a"},"encoding":{"x":{"datum":116},"y":{"datum":491},"text":{"value":"Corroded region"}}}
]},
{"width":396,"height":320,"title":{"text":"(c) D=16mm, T=7h, η=20.99%"},"layer":[
{"data":{"name":"c"},"mark":{"type":"line","strokeWidth":1.5,"interpolate":"monotone"},"encoding":{"x":{"field":"x","type":"quantitative","scale":{"domain":[100,800],"nice":false},"axis":{"values":[100,200,300,400,500,600,700,800],"title":"X/mm","tickCount":20}},"y":{"field":"y","type":"quantitative","scale":{"domain":[-1300,900],"nice":false,"zero":false},"axis":{"values":[-1200,-1000,-800,-600,-400,-200,0,200,400,600,800],"title":"Bz/mGs","labelExpr":"'' + datum.value","tickCount":20}},"color":{"field":"s","type":"nominal","sort":"descending"}}},
{"data":{"name":"c"},"mark":{"type":"point","filled":true,"opacity":1,"size":50},"encoding":{"x":{"field":"x","type":"quantitative"},"y":{"field":"y","type":"quantitative"},"color":{"field":"s","type":"nominal","sort":"descending"},"shape":{"field":"s","type":"nominal","sort":"descending","legend":null}}},
{"data":{"values":[{"x":400,"x2":500}]},"mark":{"type":"rect","fill":"#dedede","opacity":0.45},"encoding":{"x":{"field":"x","type":"quantitative"},"x2":{"field":"x2"}}},
{"data":{"values":[{"x":400},{"x":500}]},"mark":{"type":"rule","color":"#e8412c","strokeDash":[8,5],"strokeWidth":1.5},"encoding":{"x":{"field":"x","type":"quantitative"}}},
{"data":{"values":[{"x":400},{"x":500}]},"mark":{"type":"point","shape":"M-1,-3.75L1,-3.75L0,0Z","filled":true,"color":"#e8412c","opacity":1,"size":64},"encoding":{"x":{"field":"x","type":"quantitative"},"y":{"datum":-1300}}},
{"data":{"values":[{}]},"mark":{"type":"text","align":"left","baseline":"middle","font":"Liberation Serif, serif","fontSize":30,"color":"#e8201a"},"encoding":{"x":{"datum":118},"y":{"datum":721},"text":{"value":"Corroded region"}}}
]},
{"width":396,"height":320,"title":{"text":"(d) D=16mm, T=19h, η=57.14%"},"layer":[
{"data":{"name":"d"},"mark":{"type":"line","strokeWidth":1.5,"interpolate":"monotone"},"encoding":{"x":{"field":"x","type":"quantitative","scale":{"domain":[100,800],"nice":false},"axis":{"values":[100,200,300,400,500,600,700,800],"title":"X/mm","tickCount":20}},"y":{"field":"y","type":"quantitative","scale":{"domain":[-175,200],"nice":false,"zero":false},"axis":{"values":[-150,-100,-50,0,50,100,150,200],"title":"Bz/mGs","labelExpr":"'' + datum.value","tickCount":20}},"color":{"field":"s","type":"nominal","sort":"descending"}}},
{"data":{"name":"d"},"mark":{"type":"point","filled":true,"opacity":1,"size":50},"encoding":{"x":{"field":"x","type":"quantitative"},"y":{"field":"y","type":"quantitative"},"color":{"field":"s","type":"nominal","sort":"descending"},"shape":{"field":"s","type":"nominal","sort":"descending","legend":null}}},
{"data":{"values":[{"x":400,"x2":500}]},"mark":{"type":"rect","fill":"#dedede","opacity":0.45},"encoding":{"x":{"field":"x","type":"quantitative"},"x2":{"field":"x2"}}},
{"data":{"values":[{"x":400},{"x":500}]},"mark":{"type":"rule","color":"#e8412c","strokeDash":[8,5],"strokeWidth":1.5},"encoding":{"x":{"field":"x","type":"quantitative"}}},
{"data":{"values":[{"x":400},{"x":500}]},"mark":{"type":"point","shape":"M-1,-3.75L1,-3.75L0,0Z","filled":true,"color":"#e8412c","opacity":1,"size":64},"encoding":{"x":{"field":"x","type":"quantitative"},"y":{"datum":-175}}},
{"data":{"values":[{}]},"mark":{"type":"text","align":"left","baseline":"middle","font":"Liberation Serif, serif","fontSize":30,"color":"#e8201a"},"encoding":{"x":{"datum":116},"y":{"datum":168},"text":{"value":"Corroded region"}}}
]},
{"width":396,"height":320,"title":{"text":"(e) D=18mm, T=10h, η=20.63%"},"layer":[
{"data":{"name":"e"},"mark":{"type":"line","strokeWidth":1.5,"interpolate":"monotone"},"encoding":{"x":{"field":"x","type":"quantitative","scale":{"domain":[100,800],"nice":false},"axis":{"values":[100,200,300,400,500,600,700,800],"title":"X/mm","tickCount":20}},"y":{"field":"y","type":"quantitative","scale":{"domain":[-600,600],"nice":false,"zero":false},"axis":{"values":[-600,-500,-400,-300,-200,-100,0,100,200,300,400,500,600],"title":"Bz/mGs","labelExpr":"'' + datum.value","tickCount":20}},"color":{"field":"s","type":"nominal","sort":"descending"}}},
{"data":{"name":"e"},"mark":{"type":"point","filled":true,"opacity":1,"size":50},"encoding":{"x":{"field":"x","type":"quantitative"},"y":{"field":"y","type":"quantitative"},"color":{"field":"s","type":"nominal","sort":"descending"},"shape":{"field":"s","type":"nominal","sort":"descending","legend":null}}},
{"data":{"values":[{"x":400,"x2":500}]},"mark":{"type":"rect","fill":"#dedede","opacity":0.45},"encoding":{"x":{"field":"x","type":"quantitative"},"x2":{"field":"x2"}}},
{"data":{"values":[{"x":400},{"x":500}]},"mark":{"type":"rule","color":"#e8412c","strokeDash":[8,5],"strokeWidth":1.5},"encoding":{"x":{"field":"x","type":"quantitative"}}},
{"data":{"values":[{"x":400},{"x":500}]},"mark":{"type":"point","shape":"M-1,-3.75L1,-3.75L0,0Z","filled":true,"color":"#e8412c","opacity":1,"size":64},"encoding":{"x":{"field":"x","type":"quantitative"},"y":{"datum":-600}}},
{"data":{"values":[{}]},"mark":{"type":"text","align":"left","baseline":"middle","font":"Liberation Serif, serif","fontSize":30,"color":"#e8201a"},"encoding":{"x":{"datum":118},"y":{"datum":506},"text":{"value":"Corroded region"}}}
]},
{"width":396,"height":320,"title":{"text":"(f) D=18mm, T=16h, η=55.94%"},"layer":[
{"data":{"name":"f"},"mark":{"type":"line","strokeWidth":1.5,"interpolate":"monotone"},"encoding":{"x":{"field":"x","type":"quantitative","scale":{"domain":[100,800],"nice":false},"axis":{"values":[100,200,300,400,500,600,700,800],"title":"X/mm","tickCount":20}},"y":{"field":"y","type":"quantitative","scale":{"domain":[-800,500],"nice":false,"zero":false},"axis":{"values":[-800,-600,-400,-200,0,200,400],"title":"Bz/mGs","labelExpr":"'' + datum.value","tickCount":20}},"color":{"field":"s","type":"nominal","sort":"descending"}}},
{"data":{"name":"f"},"mark":{"type":"point","filled":true,"opacity":1,"size":50},"encoding":{"x":{"field":"x","type":"quantitative"},"y":{"field":"y","type":"quantitative"},"color":{"field":"s","type":"nominal","sort":"descending"},"shape":{"field":"s","type":"nominal","sort":"descending","legend":null}}},
{"data":{"values":[{"x":400,"x2":500}]},"mark":{"type":"rect","fill":"#dedede","opacity":0.45},"encoding":{"x":{"field":"x","type":"quantitative"},"x2":{"field":"x2"}}},
{"data":{"values":[{"x":400},{"x":500}]},"mark":{"type":"rule","color":"#e8412c","strokeDash":[8,5],"strokeWidth":1.5},"encoding":{"x":{"field":"x","type":"quantitative"}}},
{"data":{"values":[{"x":400},{"x":500}]},"mark":{"type":"point","shape":"M-1,-3.75L1,-3.75L0,0Z","filled":true,"color":"#e8412c","opacity":1,"size":64},"encoding":{"x":{"field":"x","type":"quantitative"},"y":{"datum":-800}}},
{"data":{"values":[{}]},"mark":{"type":"text","align":"left","baseline":"middle","font":"Liberation Serif, serif","fontSize":30,"color":"#e8201a"},"encoding":{"x":{"datum":118},"y":{"datum":398},"text":{"value":"Corroded region"}}}
]},
{"width":396,"height":320,"title":{"text":"(g) D=20mm, T=14h, η=21.99%"},"layer":[
{"data":{"name":"g"},"mark":{"type":"line","strokeWidth":1.5,"interpolate":"monotone"},"encoding":{"x":{"field":"x","type":"quantitative","scale":{"domain":[100,800],"nice":false},"axis":{"values":[100,200,300,400,500,600,700,800],"title":"X/mm","tickCount":20}},"y":{"field":"y","type":"quantitative","scale":{"domain":[-470,425],"nice":false,"zero":false},"axis":{"values":[-400,-300,-200,-100,0,100,200,300,400],"title":"Bz/mGs","labelExpr":"'' + datum.value","tickCount":20}},"color":{"field":"s","type":"nominal","sort":"descending"}}},
{"data":{"name":"g"},"mark":{"type":"point","filled":true,"opacity":1,"size":50},"encoding":{"x":{"field":"x","type":"quantitative"},"y":{"field":"y","type":"quantitative"},"color":{"field":"s","type":"nominal","sort":"descending"},"shape":{"field":"s","type":"nominal","sort":"descending","legend":null}}},
{"data":{"values":[{"x":400,"x2":500}]},"mark":{"type":"rect","fill":"#dedede","opacity":0.45},"encoding":{"x":{"field":"x","type":"quantitative"},"x2":{"field":"x2"}}},
{"data":{"values":[{"x":400},{"x":500}]},"mark":{"type":"rule","color":"#e8412c","strokeDash":[8,5],"strokeWidth":1.5},"encoding":{"x":{"field":"x","type":"quantitative"}}},
{"data":{"values":[{"x":400},{"x":500}]},"mark":{"type":"point","shape":"M-1,-3.75L1,-3.75L0,0Z","filled":true,"color":"#e8412c","opacity":1,"size":64},"encoding":{"x":{"field":"x","type":"quantitative"},"y":{"datum":-470}}},
{"data":{"values":[{}]},"mark":{"type":"text","align":"left","baseline":"middle","font":"Liberation Serif, serif","fontSize":30,"color":"#e8201a"},"encoding":{"x":{"datum":121},"y":{"datum":347},"text":{"value":"Corroded region"}}}
]},
{"width":396,"height":320,"title":{"text":"(h) D=20mm, T=30h, η=56.33%"},"layer":[
{"data":{"name":"h"},"mark":{"type":"line","strokeWidth":1.5,"interpolate":"monotone"},"encoding":{"x":{"field":"x","type":"quantitative","scale":{"domain":[100,800],"nice":false},"axis":{"values":[100,200,300,400,500,600,700,800],"title":"X/mm","tickCount":20}},"y":{"field":"y","type":"quantitative","scale":{"domain":[-275,200],"nice":false,"zero":false},"axis":{"values":[-250,-200,-150,-100,-50,0,50,100,150,200],"title":"Bz/mGs","labelExpr":"'' + datum.value","tickCount":20}},"color":{"field":"s","type":"nominal","sort":"descending"}}},
{"data":{"name":"h"},"mark":{"type":"point","filled":true,"opacity":1,"size":50},"encoding":{"x":{"field":"x","type":"quantitative"},"y":{"field":"y","type":"quantitative"},"color":{"field":"s","type":"nominal","sort":"descending"},"shape":{"field":"s","type":"nominal","sort":"descending","legend":null}}},
{"data":{"values":[{"x":400,"x2":500}]},"mark":{"type":"rect","fill":"#dedede","opacity":0.45},"encoding":{"x":{"field":"x","type":"quantitative"},"x2":{"field":"x2"}}},
{"data":{"values":[{"x":400},{"x":500}]},"mark":{"type":"rule","color":"#e8412c","strokeDash":[8,5],"strokeWidth":1.5},"encoding":{"x":{"field":"x","type":"quantitative"}}},
{"data":{"values":[{"x":400},{"x":500}]},"mark":{"type":"point","shape":"M-1,-3.75L1,-3.75L0,0Z","filled":true,"color":"#e8412c","opacity":1,"size":64},"encoding":{"x":{"field":"x","type":"quantitative"},"y":{"datum":-275}}},
{"data":{"values":[{}]},"mark":{"type":"text","align":"left","baseline":"middle","font":"Liberation Serif, serif","fontSize":30,"color":"#e8201a"},"encoding":{"x":{"datum":121},"y":{"datum":166},"text":{"value":"Corroded region"}}}
]},
{"width":396,"height":320,"title":{"text":"(i) D=25mm, T=10h, η=11.52%"},"layer":[
{"data":{"name":"i"},"mark":{"type":"line","strokeWidth":1.5,"interpolate":"monotone"},"encoding":{"x":{"field":"x","type":"quantitative","scale":{"domain":[100,800],"nice":false},"axis":{"values":[100,200,300,400,500,600,700,800],"title":"X/mm","tickCount":20}},"y":{"field":"y","type":"quantitative","scale":{"domain":[-225,200],"nice":false,"zero":false},"axis":{"values":[-200,-150,-100,-50,0,50,100,150,200],"title":"Bz/mGs","labelExpr":"'' + datum.value","tickCount":20}},"color":{"field":"s","type":"nominal","sort":"descending"}}},
{"data":{"name":"i"},"mark":{"type":"point","filled":true,"opacity":1,"size":50},"encoding":{"x":{"field":"x","type":"quantitative"},"y":{"field":"y","type":"quantitative"},"color":{"field":"s","type":"nominal","sort":"descending"},"shape":{"field":"s","type":"nominal","sort":"descending","legend":null}}},
{"data":{"values":[{"x":400,"x2":500}]},"mark":{"type":"rect","fill":"#dedede","opacity":0.45},"encoding":{"x":{"field":"x","type":"quantitative"},"x2":{"field":"x2"}}},
{"data":{"values":[{"x":400},{"x":500}]},"mark":{"type":"rule","color":"#e8412c","strokeDash":[8,5],"strokeWidth":1.5},"encoding":{"x":{"field":"x","type":"quantitative"}}},
{"data":{"values":[{"x":400},{"x":500}]},"mark":{"type":"point","shape":"M-1,-3.75L1,-3.75L0,0Z","filled":true,"color":"#e8412c","opacity":1,"size":64},"encoding":{"x":{"field":"x","type":"quantitative"},"y":{"datum":-225}}},
{"data":{"values":[{}]},"mark":{"type":"text","align":"left","baseline":"middle","font":"Liberation Serif, serif","fontSize":30,"color":"#e8201a"},"encoding":{"x":{"datum":118},"y":{"datum":167},"text":{"value":"Corroded region"}}}
]},
{"width":404,"height":320,"title":{"text":"(j) D=25mm, T=30h, η=43.76%"},"layer":[
{"data":{"name":"j"},"mark":{"type":"line","strokeWidth":1.5,"interpolate":"monotone"},"encoding":{"x":{"field":"x","type":"quantitative","scale":{"domain":[100,800],"nice":false},"axis":{"values":[100,200,300,400,500,600,700,800],"title":"X/mm","tickCount":20}},"y":{"field":"y","type":"quantitative","scale":{"domain":[-175,150],"nice":false,"zero":false},"axis":{"values":[-150,-100,-50,0,50,100,150],"title":"Bz/mGs","labelExpr":"'' + datum.value","tickCount":20}},"color":{"field":"s","type":"nominal","sort":"descending"}}},
{"data":{"name":"j"},"mark":{"type":"point","filled":true,"opacity":1,"size":50},"encoding":{"x":{"field":"x","type":"quantitative"},"y":{"field":"y","type":"quantitative"},"color":{"field":"s","type":"nominal","sort":"descending"},"shape":{"field":"s","type":"nominal","sort":"descending","legend":null}}},
{"data":{"values":[{"x":400,"x2":500}]},"mark":{"type":"rect","fill":"#dedede","opacity":0.45},"encoding":{"x":{"field":"x","type":"quantitative"},"x2":{"field":"x2"}}},
{"data":{"values":[{"x":400},{"x":500}]},"mark":{"type":"rule","color":"#e8412c","strokeDash":[8,5],"strokeWidth":1.5},"encoding":{"x":{"field":"x","type":"quantitative"}}},
{"data":{"values":[{"x":400},{"x":500}]},"mark":{"type":"point","shape":"M-1,-3.75L1,-3.75L0,0Z","filled":true,"color":"#e8412c","opacity":1,"size":64},"encoding":{"x":{"field":"x","type":"quantitative"},"y":{"datum":-175}}},
{"data":{"values":[{}]},"mark":{"type":"text","align":"left","baseline":"middle","font":"Liberation Serif, serif","fontSize":30,"color":"#e8201a"},"encoding":{"x":{"datum":125},"y":{"datum":125},"text":{"value":"Corroded region"}}}
]}
]
}
